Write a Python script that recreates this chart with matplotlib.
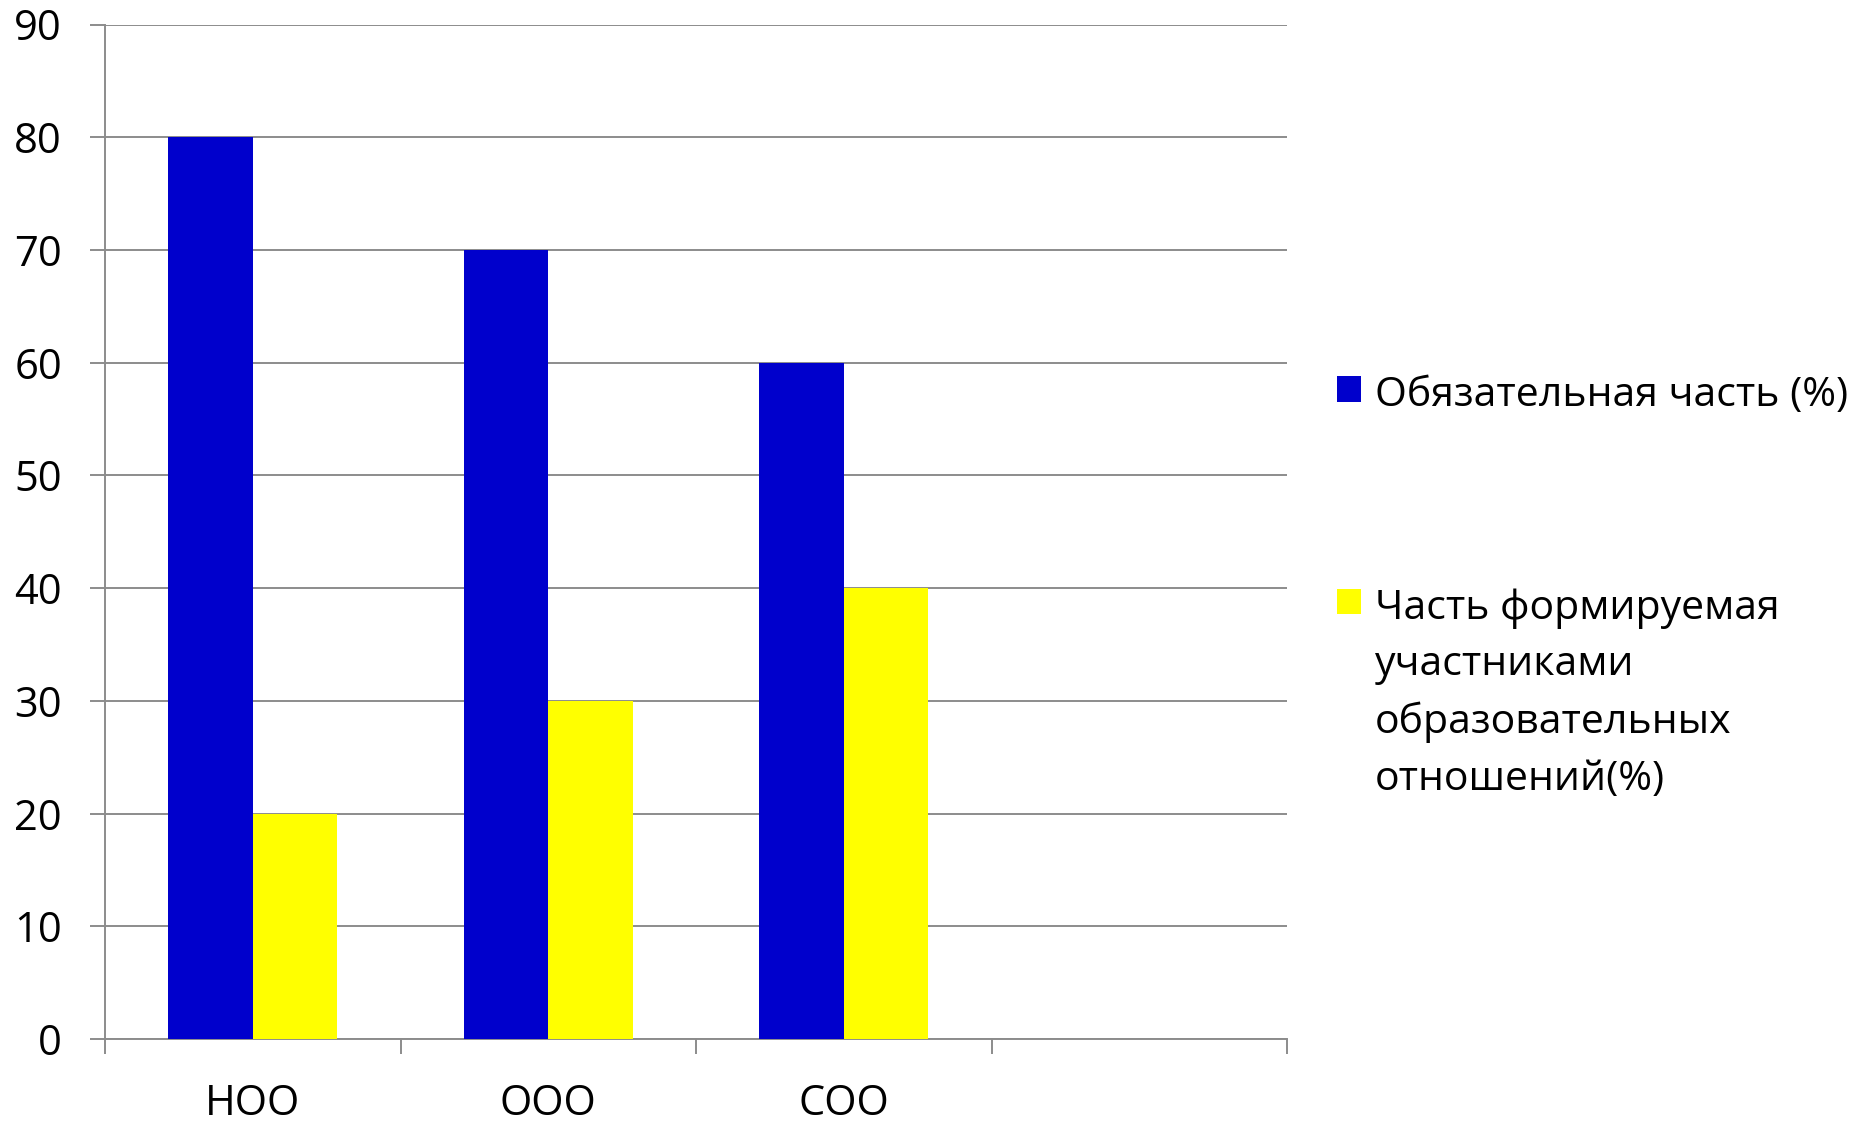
import numpy as np
import matplotlib
matplotlib.use('Agg')
import matplotlib.pyplot as plt

categories = ['НОО', 'ООО', 'СОО', '']
mandatory = [80, 70, 60]
formed = [20, 30, 40]
series_labels = ['Обязательная часть (%)',
                 'Часть формируемая\nучастниками\nобразовательных\nотношений(%)']
colors = ['#0000CC', '#FFFF00']
y_ticks = list(range(0, 100, 10))

plt.rcParams['font.family'] = ['Open Sans', 'DejaVu Sans']
plt.rcParams.update({'font.size': 30})

fig = plt.figure(figsize=(18.6, 11.23), dpi=100)
ax = fig.add_axes([105 / 1860, 1 - 1039 / 1123, (1287 - 105) / 1860, (1039 - 24.5) / 1123])

w = 0.286
x = np.arange(len(mandatory))
ax.bar(x - w / 2, mandatory, w, color=colors[0], label=series_labels[0], zorder=3)
ax.bar(x + w / 2, formed, w, color=colors[1], label=series_labels[1], zorder=3)

ax.set_xlim(-0.5, len(categories) - 0.5)
ax.set_ylim(0, 90)
ax.set_yticks(y_ticks)
ax.yaxis.grid(True, color='#8c8c8c', linewidth=1.4, zorder=0)

# category boundaries get tick marks, names sit in between
ax.set_xticks(np.arange(len(categories) + 1) - 0.5)
ax.set_xticklabels([])
ax.set_xticks(np.arange(len(categories)), minor=True)
ax.set_xticklabels(categories, minor=True)
ax.tick_params(axis='x', which='major', length=11, width=1.4, color='#8c8c8c')
ax.tick_params(axis='x', which='minor', length=0, pad=32)
ax.tick_params(axis='y', length=11, width=1.4, color='#8c8c8c', pad=20)

for s in ['top', 'right']:
    ax.spines[s].set_visible(False)
for s in ['left', 'bottom']:
    ax.spines[s].set_color('#8c8c8c')
    ax.spines[s].set_linewidth(1.4)

leg = fig.legend(loc='upper left', bbox_to_anchor=(1337 / 1860, 1 - 376 / 1123),
                 frameon=False, borderpad=0, borderaxespad=0, handlelength=0.59,
                 handleheight=0.59, handletextpad=0.33, labelspacing=4.2, fontsize=29.5)
for t in leg.get_texts():
    t.set_linespacing(1.52)
# put squares next to the first line of each label
for col in leg._legend_handle_box.get_children():
    for row in col.get_children():
        row.align = 'top'

fig.savefig('out.png', dpi=100)
